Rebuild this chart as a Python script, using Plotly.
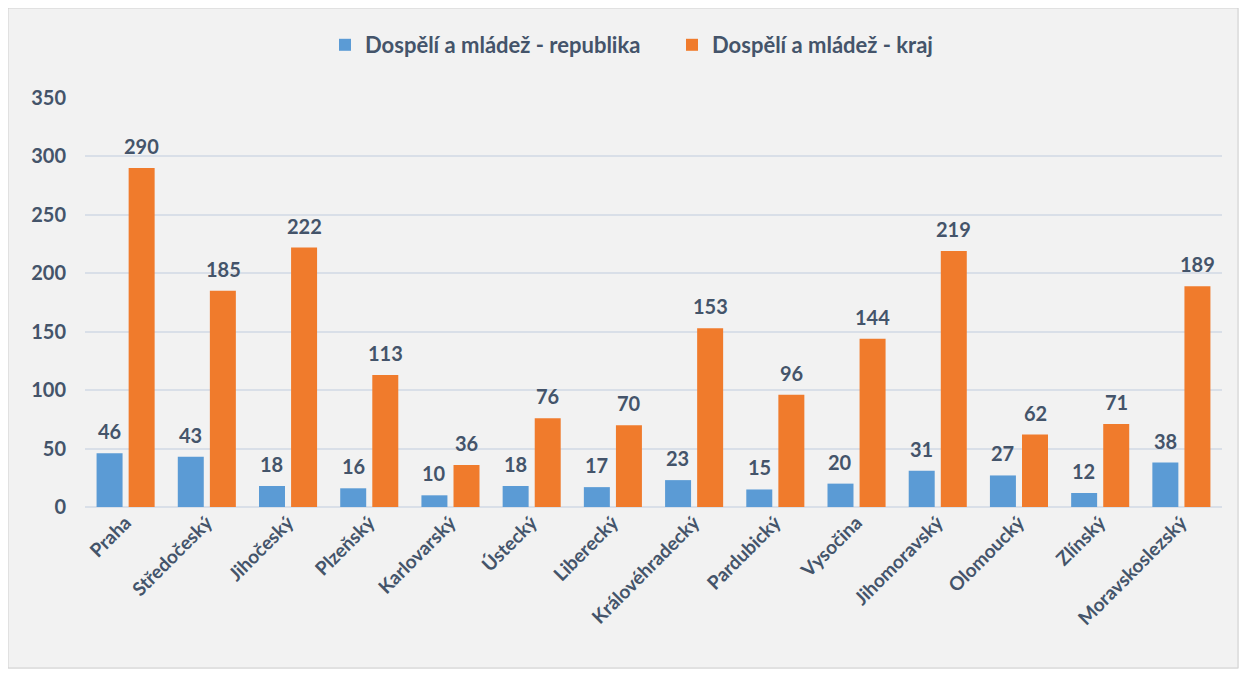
import plotly.graph_objects as go

# Data
regions = [
    "Praha", "Středočeský", "Jihočeský", "Plzeňský", "Karlovarský", "Ústecký",
    "Liberecký", "Královéhradecký", "Pardubický", "Vysočina", "Jihomoravský",
    "Olomoucký", "Zlínský", "Moravskoslezský",
]
republika = [46, 43, 18, 16, 10, 18, 17, 23, 15, 20, 31, 27, 12, 38]
kraj = [290, 185, 222, 113, 36, 76, 70, 153, 96, 144, 219, 62, 71, 189]
y_ticks = [0, 50, 100, 150, 200, 250, 300, 350]

TEXT = "#44546a"
FONT = "Lato, 'Open Sans', sans-serif"

fig = go.Figure()
fig.add_trace(go.Bar(
    name="Dospělí a mládež - republika",
    x=regions, y=republika,
    marker=dict(color="#5b9bd5", line=dict(width=0)),
))
fig.add_trace(go.Bar(
    name="Dospělí a mládež - kraj",
    x=regions, y=kraj,
    marker=dict(color="#f07b2c", line=dict(width=0)),
))

# value labels above the bars
annotations = []
for i, (a, b) in enumerate(zip(republika, kraj)):
    for val, off in ((a, -0.2), (b, 0.2)):
        annotations.append(dict(
            x=i + off, y=val, xref="x", yref="y", text=str(val),
            showarrow=False, yanchor="bottom", yshift=8,
            font=dict(size=20, color=TEXT, family=FONT, weight="bold"),
        ))

# page has an 8px body margin, so the figure is sized to fit inside it
W, H = 1231, 661
L, R, T, B = 77, 17, 90, 162
pw, ph = W - L - R, H - T - B

fig.update_layout(
    width=W, height=H,
    paper_bgcolor="#f2f2f2",
    plot_bgcolor="#f2f2f2",
    font=dict(family=FONT, color=TEXT),
    barmode="group",
    bargap=0.21,
    bargroupgap=0.19,
    margin=dict(l=L, r=R, t=T, b=B),
    legend=dict(
        orientation="h",
        xref="container", x=317 / W, xanchor="left",
        yref="container", y=1 - 37 / H, yanchor="middle",
        font=dict(size=22, color=TEXT, family=FONT, weight="bold"),
        bgcolor="rgba(0,0,0,0)",
        traceorder="normal",
        entrywidth=302, entrywidthmode="pixels",
    ),
    xaxis=dict(
        tickangle=-45,
        tickfont=dict(size=19, color=TEXT, family=FONT, weight="bold"),
        showgrid=False,
        showline=False,
    ),
    yaxis=dict(
        range=[0, 350],
        tickvals=y_ticks,
        tickfont=dict(size=20, color=TEXT, family=FONT, weight="bold"),
        gridcolor="#d9dfe8", gridwidth=2,
        zeroline=True, zerolinecolor="#d9dfe8", zerolinewidth=2,
        ticklabelstandoff=18,
    ),
    annotations=annotations,
    shapes=[dict(
        type="rect", xref="paper", yref="paper",
        x0=-L / pw, x1=1 + (R - 1) / pw,
        y0=-(B - 1) / ph, y1=1 + T / ph,
        line=dict(color="#d0d0d0", width=1),
    )],
)

fig.write_html("out.html")
